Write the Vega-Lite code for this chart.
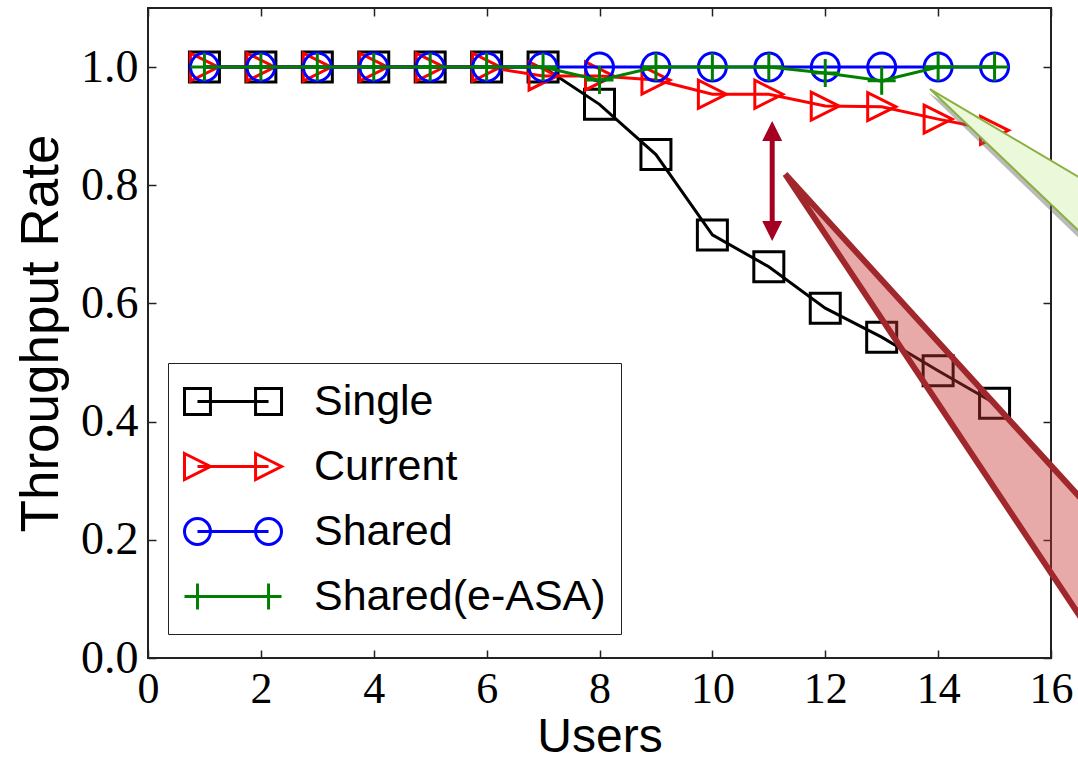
{
  "$schema": "https://vega.github.io/schema/vega-lite/v6.json",
  "width": 903,
  "height": 650,
  "autosize": {"type": "none"},
  "padding": {"left": 148, "top": 8, "right": 27, "bottom": 110},
  "background": "white",
  "config": {
    "view": {"stroke": "#222222", "strokeWidth": 2},
    "axis": {"grid": false}
  },
  "datasets": {
    "main": [
      {"series": "Single", "users": 1, "rate": 1.0},
      {"series": "Single", "users": 2, "rate": 1.0},
      {"series": "Single", "users": 3, "rate": 1.0},
      {"series": "Single", "users": 4, "rate": 1.0},
      {"series": "Single", "users": 5, "rate": 1.0},
      {"series": "Single", "users": 6, "rate": 1.0},
      {"series": "Single", "users": 7, "rate": 1.0},
      {"series": "Single", "users": 8, "rate": 0.937},
      {"series": "Single", "users": 9, "rate": 0.852},
      {"series": "Single", "users": 10, "rate": 0.716},
      {"series": "Single", "users": 11, "rate": 0.662},
      {"series": "Single", "users": 12, "rate": 0.592},
      {"series": "Single", "users": 13, "rate": 0.543},
      {"series": "Single", "users": 14, "rate": 0.486},
      {"series": "Single", "users": 15, "rate": 0.431},
      {"series": "Current", "users": 1, "rate": 1.0},
      {"series": "Current", "users": 2, "rate": 1.0},
      {"series": "Current", "users": 3, "rate": 1.0},
      {"series": "Current", "users": 4, "rate": 1.0},
      {"series": "Current", "users": 5, "rate": 1.0},
      {"series": "Current", "users": 6, "rate": 1.0},
      {"series": "Current", "users": 7, "rate": 0.985},
      {"series": "Current", "users": 8, "rate": 0.985},
      {"series": "Current", "users": 9, "rate": 0.978},
      {"series": "Current", "users": 10, "rate": 0.954},
      {"series": "Current", "users": 11, "rate": 0.954},
      {"series": "Current", "users": 12, "rate": 0.934},
      {"series": "Current", "users": 13, "rate": 0.933},
      {"series": "Current", "users": 14, "rate": 0.912},
      {"series": "Current", "users": 15, "rate": 0.893},
      {"series": "Shared", "users": 1, "rate": 1.0},
      {"series": "Shared", "users": 2, "rate": 1.0},
      {"series": "Shared", "users": 3, "rate": 1.0},
      {"series": "Shared", "users": 4, "rate": 1.0},
      {"series": "Shared", "users": 5, "rate": 1.0},
      {"series": "Shared", "users": 6, "rate": 1.0},
      {"series": "Shared", "users": 7, "rate": 1.0},
      {"series": "Shared", "users": 8, "rate": 1.0},
      {"series": "Shared", "users": 9, "rate": 1.0},
      {"series": "Shared", "users": 10, "rate": 1.0},
      {"series": "Shared", "users": 11, "rate": 1.0},
      {"series": "Shared", "users": 12, "rate": 1.0},
      {"series": "Shared", "users": 13, "rate": 1.0},
      {"series": "Shared", "users": 14, "rate": 1.0},
      {"series": "Shared", "users": 15, "rate": 1.0},
      {"series": "Shared(e-ASA)", "users": 1, "rate": 1.0},
      {"series": "Shared(e-ASA)", "users": 2, "rate": 1.0},
      {"series": "Shared(e-ASA)", "users": 3, "rate": 1.0},
      {"series": "Shared(e-ASA)", "users": 4, "rate": 1.0},
      {"series": "Shared(e-ASA)", "users": 5, "rate": 1.0},
      {"series": "Shared(e-ASA)", "users": 6, "rate": 1.0},
      {"series": "Shared(e-ASA)", "users": 7, "rate": 1.0},
      {"series": "Shared(e-ASA)", "users": 8, "rate": 0.978},
      {"series": "Shared(e-ASA)", "users": 9, "rate": 1.0},
      {"series": "Shared(e-ASA)", "users": 10, "rate": 1.0},
      {"series": "Shared(e-ASA)", "users": 11, "rate": 1.0},
      {"series": "Shared(e-ASA)", "users": 12, "rate": 0.99},
      {"series": "Shared(e-ASA)", "users": 13, "rate": 0.977},
      {"series": "Shared(e-ASA)", "users": 14, "rate": 1.0},
      {"series": "Shared(e-ASA)", "users": 15, "rate": 1.0}
    ],
    "redCallout": [
      {"i": 0, "x": 11.29, "y": 0.819},
      {"i": 1, "x": 17.04, "y": 0.2166},
      {"i": 2, "x": 17.04, "y": -0.005},
      {"i": 3, "x": 11.29, "y": 0.819}
    ],
    "greenShadow": [
      {"i": 0, "x": 13.83, "y": 0.956},
      {"i": 1, "x": 17.0, "y": 0.776},
      {"i": 2, "x": 17.0, "y": 0.664},
      {"i": 3, "x": 13.83, "y": 0.956}
    ],
    "greenCallout": [
      {"i": 0, "x": 13.855, "y": 0.9628},
      {"i": 1, "x": 17.04, "y": 0.783},
      {"i": 2, "x": 17.04, "y": 0.673},
      {"i": 3, "x": 13.855, "y": 0.9628}
    ],
    "arrowShaft": [
      {"x": 11.06, "y": 0.88, "y2": 0.735}
    ],
    "arrowTop": [
      {"x": 11.06, "y": 0.8917}
    ],
    "arrowBottom": [
      {"x": 11.06, "y": 0.7225}
    ]
  },
  "layer": [
    {
      "data": {"name": "main"},
      "transform": [{"filter": "datum.series === 'Single'"}],
      "mark": {"type": "line", "color": "#000000", "strokeWidth": 3, "clip": false,
        "point": {"filled": false, "shape": "square", "size": 900, "strokeWidth": 3, "color": "#000000"}},
      "encoding": {
        "x": {"field": "users", "type": "quantitative",
          "scale": {"domain": [0, 16], "nice": false},
          "axis": {"orient": "bottom", "values": [0, 2, 4, 6, 8, 10, 12, 14, 16], "title": "Users",
            "titleFont": "Liberation Sans", "titleFontSize": 48, "titleFontWeight": "normal", "titleColor": "#000000",
            "titlePadding": 2,
            "labelFont": "Liberation Serif", "labelFontSize": 44, "labelColor": "#000000",
            "labelPadding": 17, "tickSize": -8, "tickColor": "#222222", "tickWidth": 1.5,
            "domain": false, "labelFlush": false, "labelOverlap": false}},
        "y": {"field": "rate", "type": "quantitative",
          "scale": {"domain": [0, 1.1], "nice": false},
          "axis": {"orient": "left", "values": [0, 0.2, 0.4, 0.6, 0.8, 1.0], "format": ".1f", "title": "Throughput Rate",
            "titleFont": "Liberation Sans", "titleFontSize": 53, "titleFontWeight": "normal", "titleColor": "#000000",
            "titlePadding": 12,
            "labelFont": "Liberation Serif", "labelFontSize": 46, "labelColor": "#000000",
            "labelPadding": 18, "tickSize": -8, "tickColor": "#222222", "tickWidth": 1.5,
            "domain": false, "labelFlush": false, "labelOverlap": false}}
      }
    },
    {
      "data": {"name": "main"},
      "transform": [{"filter": "datum.series === 'Current'"}],
      "mark": {"type": "line", "color": "#ff0000", "strokeWidth": 3, "clip": false,
        "point": {"filled": false, "shape": "M1,0L-1,-1L-1,1Z", "size": 784, "strokeWidth": 3, "color": "#ff0000"}},
      "encoding": {
        "x": {"field": "users", "type": "quantitative", "scale": {"domain": [0, 16], "nice": false}, "axis": null},
        "y": {"field": "rate", "type": "quantitative", "scale": {"domain": [0, 1.1], "nice": false}, "axis": null}
      }
    },
    {
      "data": {"name": "main"},
      "transform": [{"filter": "datum.series === 'Shared'"}],
      "mark": {"type": "line", "color": "#0000ff", "strokeWidth": 3, "clip": false,
        "point": {"filled": false, "shape": "circle", "size": 784, "strokeWidth": 3, "color": "#0000ff"}},
      "encoding": {
        "x": {"field": "users", "type": "quantitative", "scale": {"domain": [0, 16], "nice": false}, "axis": null},
        "y": {"field": "rate", "type": "quantitative", "scale": {"domain": [0, 1.1], "nice": false}, "axis": null}
      }
    },
    {
      "data": {"name": "main"},
      "transform": [{"filter": "datum.series === 'Shared(e-ASA)'"}],
      "mark": {"type": "line", "color": "#008000", "strokeWidth": 3, "clip": false,
        "point": {"filled": false, "shape": "M-1,0L1,0M0,-1L0,1", "size": 784, "strokeWidth": 3, "color": "#008000"}},
      "encoding": {
        "x": {"field": "users", "type": "quantitative", "scale": {"domain": [0, 16], "nice": false}, "axis": null},
        "y": {"field": "rate", "type": "quantitative", "scale": {"domain": [0, 1.1], "nice": false}, "axis": null}
      }
    },
    {
      "data": {"name": "redCallout"},
      "mark": {"type": "line", "fill": "#c83232", "fillOpacity": 0.42, "stroke": "#a0282d", "strokeWidth": 6, "strokeJoin": "round", "clip": false},
      "encoding": {
        "x": {"field": "x", "type": "quantitative", "scale": {"domain": [0, 16], "nice": false},
          "axis": {"orient": "top", "values": [0, 2, 4, 6, 8, 10, 12, 14, 16], "labels": false, "title": null, "domain": false,
            "tickSize": -8, "tickColor": "#222222", "tickWidth": 1.5}},
        "y": {"field": "y", "type": "quantitative", "scale": {"domain": [0, 1.1], "nice": false},
          "axis": {"orient": "right", "values": [0, 0.2, 0.4, 0.6, 0.8, 1.0], "labels": false, "title": null, "domain": false,
            "tickSize": -8, "tickColor": "#222222", "tickWidth": 1.5}},
        "order": {"field": "i", "type": "quantitative"}
      }
    },
    {
      "data": {"name": "greenShadow"},
      "mark": {"type": "line", "fill": "#666666", "fillOpacity": 0.45, "strokeOpacity": 0, "clip": false},
      "encoding": {
        "x": {"field": "x", "type": "quantitative", "scale": {"domain": [0, 16], "nice": false}, "axis": null},
        "y": {"field": "y", "type": "quantitative", "scale": {"domain": [0, 1.1], "nice": false}, "axis": null},
        "order": {"field": "i", "type": "quantitative"}
      }
    },
    {
      "data": {"name": "greenCallout"},
      "mark": {"type": "line", "fill": "#ebf8da", "stroke": "#8ab040", "strokeWidth": 2, "clip": false},
      "encoding": {
        "x": {"field": "x", "type": "quantitative", "scale": {"domain": [0, 16], "nice": false}, "axis": null},
        "y": {"field": "y", "type": "quantitative", "scale": {"domain": [0, 1.1], "nice": false}, "axis": null},
        "order": {"field": "i", "type": "quantitative"}
      }
    },
    {
      "data": {"name": "arrowShaft"},
      "mark": {"type": "rule", "color": "#a50021", "strokeWidth": 5},
      "encoding": {
        "x": {"field": "x", "type": "quantitative", "scale": {"domain": [0, 16], "nice": false}, "axis": null},
        "y": {"field": "y", "type": "quantitative", "scale": {"domain": [0, 1.1], "nice": false}, "axis": null},
        "y2": {"field": "y2"}
      }
    },
    {
      "data": {"name": "arrowTop"},
      "mark": {"type": "point", "filled": true, "shape": "M0,-1L1,1L-1,1Z", "size": 400, "color": "#a50021", "opacity": 1},
      "encoding": {
        "x": {"field": "x", "type": "quantitative", "scale": {"domain": [0, 16], "nice": false}, "axis": null},
        "y": {"field": "y", "type": "quantitative", "scale": {"domain": [0, 1.1], "nice": false}, "axis": null}
      }
    },
    {
      "data": {"name": "arrowBottom"},
      "mark": {"type": "point", "filled": true, "shape": "M0,1L1,-1L-1,-1Z", "size": 400, "color": "#a50021", "opacity": 1},
      "encoding": {
        "x": {"field": "x", "type": "quantitative", "scale": {"domain": [0, 16], "nice": false}, "axis": null},
        "y": {"field": "y", "type": "quantitative", "scale": {"domain": [0, 1.1], "nice": false}, "axis": null}
      }
    },
    {
      "data": {"name": "main"},
      "transform": [{"filter": "false"}],
      "mark": {"type": "point", "filled": false, "size": 1936, "strokeWidth": 3, "opacity": 1},
      "encoding": {
        "x": {"field": "users", "type": "quantitative", "scale": {"domain": [0, 16], "nice": false}, "axis": null},
        "y": {"field": "rate", "type": "quantitative", "scale": {"domain": [0, 1.1], "nice": false}, "axis": null},
        "color": {"field": "series", "type": "nominal",
          "scale": {"domain": ["Single", "Current", "Shared", "Shared(e-ASA)"], "range": ["#000000", "#ff0000", "#0000ff", "#008000"]},
          "legend": {"orient": "none", "legendX": 20, "legendY": 355, "title": null, "padding": 15,
            "strokeColor": "#222222", "fillColor": "#ffffff", "symbolSize": 1936, "symbolStrokeWidth": 3,
            "rowPadding": 19, "labelFont": "Liberation Sans", "labelFontSize": 43, "labelColor": "#000000",
            "labelOffset": 84, "labelLimit": 500,
            "encode": {"legend": {"update": {"strokeWidth": {"value": 2}}}}}},
        "shape": {"field": "series", "type": "nominal",
          "scale": {"domain": ["Single", "Current", "Shared", "Shared(e-ASA)"],
            "range": [
              "M-1,-0.59L0.18,-0.59L0.18,0.59L-1,0.59ZM2.23,-0.59L3.41,-0.59L3.41,0.59L2.23,0.59ZM-0.41,0L2.82,0",
              "M-1,-0.59L0.18,0L-1,0.59ZM2.23,-0.59L3.41,0L2.23,0.59ZM-0.41,0L2.82,0",
              "M0.18,0A0.59,0.59,0,1,1,-1,0A0.59,0.59,0,1,1,0.18,0ZM3.41,0A0.59,0.59,0,1,1,2.23,0A0.59,0.59,0,1,1,3.41,0ZM-0.41,0L2.82,0",
              "M-1,0L3.41,0M-0.41,-0.59L-0.41,0.59M2.82,-0.59L2.82,0.59"
            ]},
          "legend": {"orient": "none", "legendX": 20, "legendY": 355, "title": null}}
      }
    }
  ],
  "resolve": {"axis": {"x": "independent", "y": "independent"}}
}
